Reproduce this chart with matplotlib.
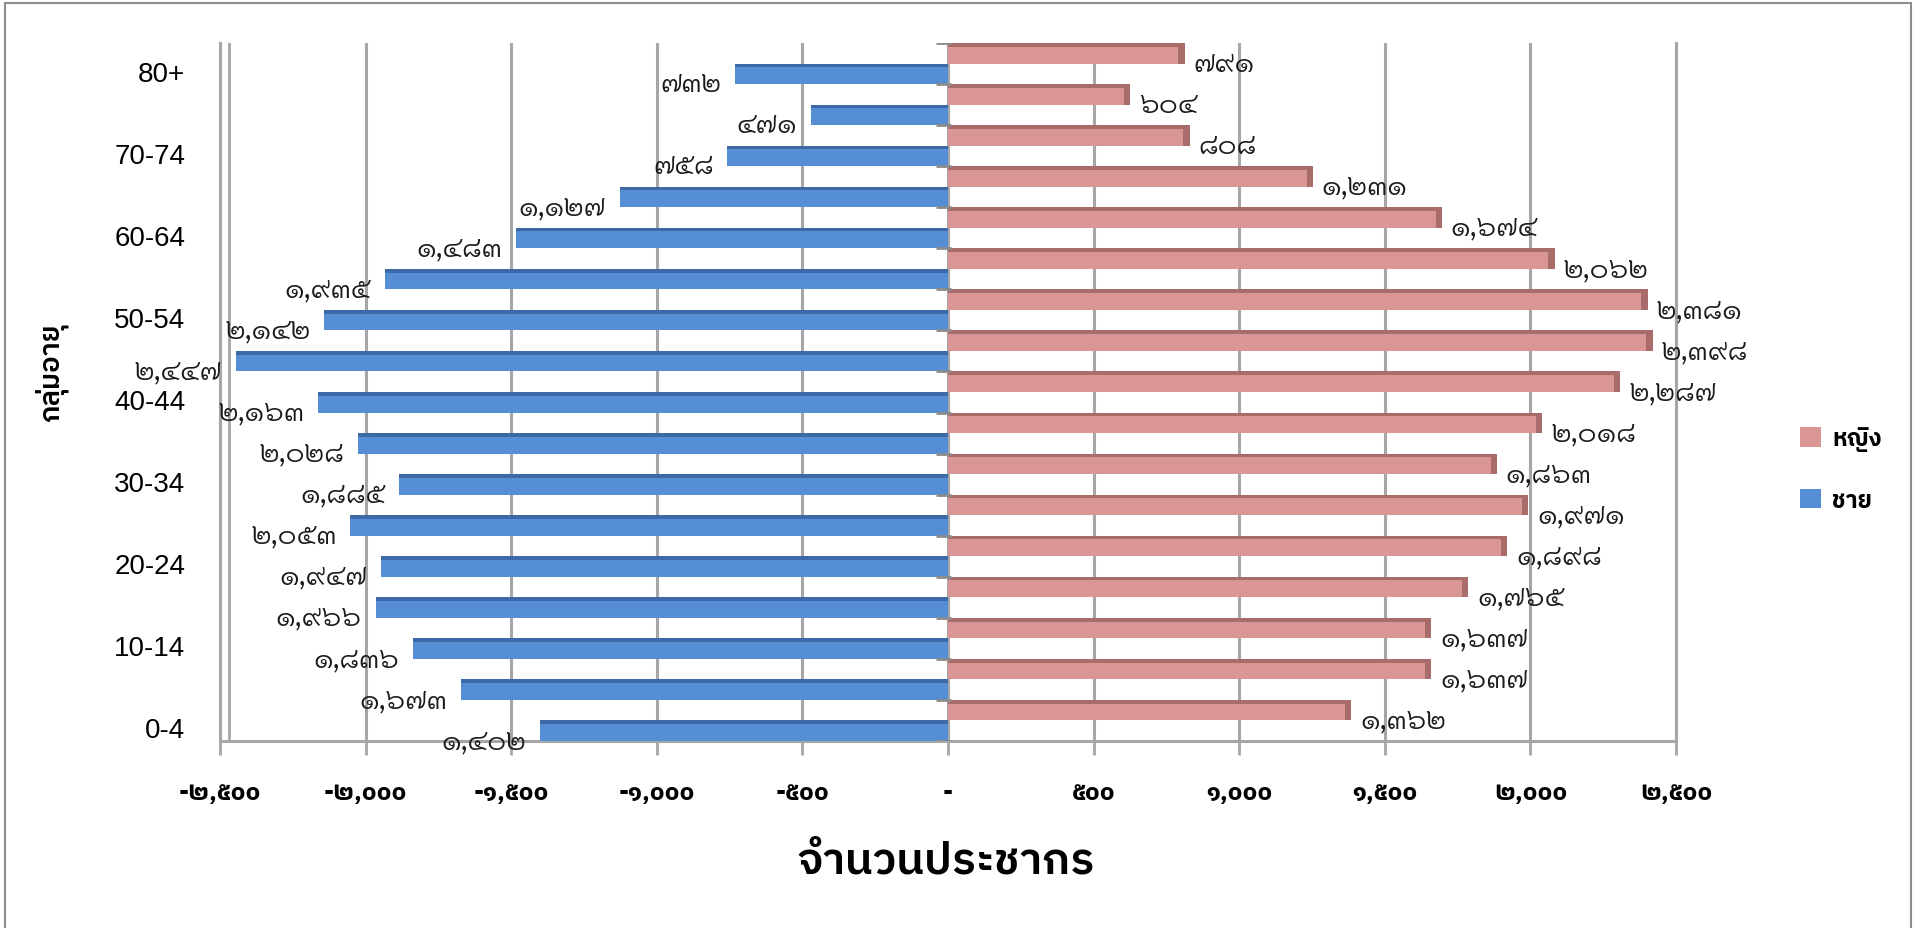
import numpy as np
import matplotlib
matplotlib.use("Agg")
import matplotlib.pyplot as plt
from matplotlib.patches import Rectangle
from matplotlib.transforms import ScaledTranslation

# ---- data ----
age_groups = ["0-4", "5-9", "10-14", "15-19", "20-24", "25-29", "30-34", "35-39", "40-44",
              "45-49", "50-54", "55-59", "60-64", "65-69", "70-74", "75-79", "80+"]
male = [1402, 1673, 1836, 1966, 1947, 2053, 1885, 2028, 2163, 2447, 2142, 1935, 1483, 1127, 758, 471, 732]
female = [1362, 1637, 1637, 1765, 1898, 1971, 1863, 2018, 2287, 2398, 2381, 2062, 1674, 1231, 808, 604, 791]
x_ticks = [-2500, -2000, -1500, -1000, -500, 0, 500, 1000, 1500, 2000, 2500]
label_female, label_male = "หญิง", "ชาย"
x_title, y_title = "จำนวนประชากร", "กลุ่มอายุ"

BLUE, BLUE_DK = "#558ed5", "#3d6aa6"
PINK, PINK_DK = "#d99694", "#a86c6a"
GRID = "#a6a6a6"

# Thai-capable families (checked in the sandbox)
F_BOLD = ["IBM Plex Sans Thai", "DejaVu Sans"]
F_LAB = ["Sarabun", "DejaVu Sans"]
thai_digits = str.maketrans("0123456789", "๐๑๒๓๔๕๖๗๘๙")

def th(v):
    if v == 0:
        return "-"
    s = f"{abs(v):,}".translate(thai_digits)
    return ("-" if v < 0 else "") + s

fig = plt.figure(figsize=(19.17, 9.29), dpi=100)
ax = fig.add_axes([0.1148, 0.2013, 0.7595, 0.7513])

y = np.arange(len(age_groups))
h = 0.5
bm = ax.barh(y - 0.25, [-v for v in male], height=h, color=BLUE, zorder=3)
bf = ax.barh(y + 0.25, female, height=h, color=PINK, zorder=3)
# darker top faces, a hint of the 3d look
ax.barh(y - 0.25 + h / 2 - 0.045, [-v for v in male], height=0.09, color=BLUE_DK, zorder=4)
ax.barh(y + 0.25 + h / 2 - 0.045, female, height=0.09, color=PINK_DK, zorder=4)
ax.barh(y + 0.25, [22] * len(female), left=female, height=h, color=PINK_DK, zorder=4)

for yi, v in zip(y, male):
    ax.annotate(th(v), (-v, yi - 0.25), xytext=(-10, -7), textcoords="offset points",
                ha="right", va="center", fontsize=21, family=F_LAB, fontweight=300,
                color="#1a1a1a", zorder=5)
for yi, v in zip(y, female):
    ax.annotate(th(v), (v, yi + 0.25), xytext=(11, -7), textcoords="offset points",
                ha="left", va="center", fontsize=21, family=F_LAB, fontweight=300,
                color="#1a1a1a", zorder=5)

ax.set_xlim(-2500, 2500)
ax.set_ylim(-0.5, len(age_groups) - 0.5)
ax.set_xticks(x_ticks)
ax.set_xticklabels([th(v) for v in x_ticks], family=F_BOLD, fontweight="bold", fontsize=18)
ax.set_yticks(y[::2])
ax.set_yticklabels(age_groups[::2], family=["Liberation Sans", "DejaVu Sans"], fontsize=20)
ax.tick_params(axis="y", length=0, pad=25)
ax.tick_params(axis="x", length=10, width=2, color=GRID, pad=18)
for lab in ax.get_yticklabels():
    lab.set_transform(lab.get_transform() + ScaledTranslation(0, -5 / 72, fig.dpi_scale_trans))

ax.set_axisbelow(True)
ax.xaxis.grid(True, color=GRID, lw=2.2)
ax.spines["top"].set_visible(False)
for s in ["left", "right", "bottom"]:
    ax.spines[s].set_color(GRID)
    ax.spines[s].set_linewidth(2.2)
ax.axvline(-2470, color=GRID, lw=2, zorder=1)
ax.axvline(0, color=GRID, lw=2, zorder=2)
ax.hlines(np.arange(len(age_groups) + 1) - 0.5, -40, 10, color="#8c8c8c", lw=2, zorder=6)

fig.text(0.4935, 1 - 862 / 929, x_title, ha="center", va="center", family=F_BOLD,
         fontweight=600, fontsize=32)
fig.text(0.027, 1 - 373 / 929, y_title, ha="center", va="center", rotation=90,
         family=F_BOLD, fontweight=600, fontsize=20)

ax.legend([bf, bm], [label_female, label_male], loc="center left",
          bbox_to_anchor=(1800 / 1917, 1 - 470 / 929), bbox_transform=fig.transFigure,
          frameon=False, handlelength=0.9, handleheight=0.9, handletextpad=0.45,
          labelspacing=1.6, borderpad=0, borderaxespad=0,
          prop={"family": F_BOLD, "weight": "bold", "size": 17})

fig.patches.append(Rectangle((5 / 1917, -0.02), 1906 / 1917, 1.02 - 4 / 929, fill=False,
                             edgecolor="#8c8c8c", lw=1.5, transform=fig.transFigure))

fig.savefig("out.png", dpi=100)
